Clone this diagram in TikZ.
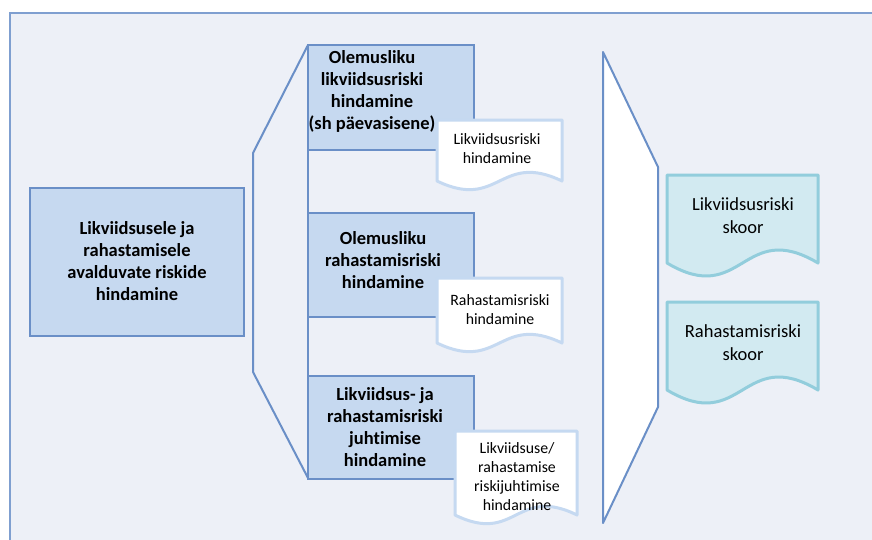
\documentclass[tikz,border=0pt]{standalone}
\usepackage{fontspec}
\setmainfont[Ligatures=NoCommon]{Carlito}
\definecolor{bgc}{HTML}{EDF0F7}
\definecolor{framec}{HTML}{7F9FD0}
\definecolor{boxfill}{HTML}{C6D9F0}
\definecolor{boxline}{HTML}{6A8FC7}
\definecolor{docline}{HTML}{C5D9F1}
\definecolor{tealfill}{HTML}{D2EAF1}
\definecolor{tealline}{HTML}{92CDDC}
\newcommand\mydocpath[6]{%
  \path[#6] (#1,#2) -- (#3,#2) -- (#3,#4) .. controls ({(#1+#3)/2},{#4-#5}) and ({(#1+#3)/2},{#4+#5}) .. (#1,#4) -- cycle;}
\begin{document}
\begin{tikzpicture}[x=1pt,y=-1pt,
  boxstyle/.style={draw=boxline, fill=boxfill, line width=2pt},
  docstyle/.style={draw=docline, fill=white, line width=3pt, line join=round},
  tealstyle/.style={draw=tealline, fill=tealfill, line width=3pt, line join=round},
  linkstyle/.style={draw=boxline, line width=2pt, line join=round},
  boldtext/.style={align=center, font=\fontsize{18.5}{22}\selectfont\bfseries, inner sep=0pt},
  smalltext/.style={align=center, font=\fontsize{15.8}{19}\selectfont, inner sep=0pt},
  tealtext/.style={align=center, font=\fontsize{18.5}{23}\selectfont, inner sep=0pt}]
\useasboundingbox (0,0) rectangle (872,539);
% background frame
\path[fill=bgc, draw=framec, line width=2pt] (10,13) rectangle (900,570);
% bracket and vertical link
\path[linkstyle] (308,45) -- (253,153) -- (253,372) -- (308,478);
\path[linkstyle] (308,45) -- (308,478);
% middle boxes
\path[boxstyle] (308,45) rectangle (474,150);
\path[boxstyle] (308,213) rectangle (474,317);
\path[boxstyle] (308,376) rectangle (474,479);
\node[boldtext] (b1) at (372,91) {Olemusliku\\likviidsusriski\\hindamine\\(sh päevasisene)};
\node[boldtext] (b2) at (383,260) {Olemusliku\\rahastamisriski\\hindamine};
\node[boldtext] (b3) at (385,427) {Likviidsus- ja\\rahastamisriski\\juhtimise\\hindamine};
% white documents
\mydocpath{437}{120}{562}{181}{30}{docstyle}
\mydocpath{437}{278}{562}{343}{30}{docstyle}
\mydocpath{455}{431}{577}{515}{30}{docstyle}
\node[smalltext] (d1) at (497,149) {Likviidsusriski\\hindamine};
\node[smalltext] (d2) at (500,310) {Rahastamisriski\\hindamine};
\node[smalltext] (d3) at (517,477) {Likviidsuse/\\rahastamise\\riskijuhtimise\\hindamine};
% left box
\path[boxstyle] (30,188) rectangle (244,336);
\node[boldtext] (main) at (137,261) {Likviidsusele ja\\rahastamisele\\avalduvate riskide\\hindamine};
% right trapezoid
\path[draw=boxline, fill=white, line width=2pt, line join=round] (603,52) -- (658,167) -- (658,407) -- (603,523) -- cycle;
% teal documents
\mydocpath{667}{175}{818}{263}{45}{tealstyle}
\mydocpath{667}{302}{818}{390}{45}{tealstyle}
\node[tealtext] (t1) at (743,216) {Likviidsusriski\\skoor};
\node[tealtext] (t2) at (743,343) {Rahastamisriski\\skoor};
\end{tikzpicture}
\end{document}
